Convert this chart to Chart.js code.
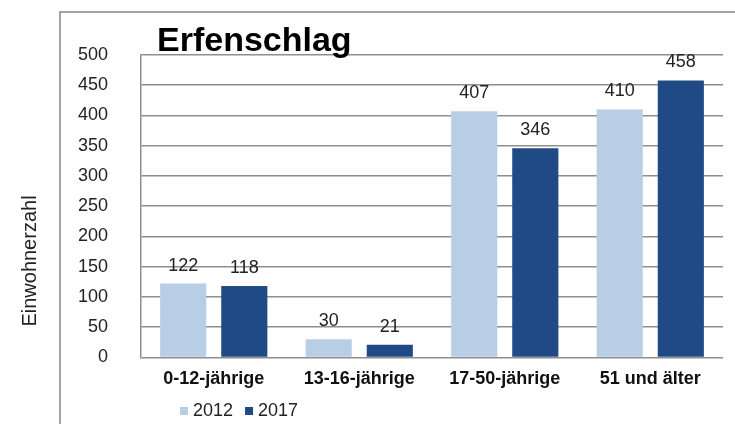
<!DOCTYPE html>
<html>
<head>
<meta charset="utf-8">
<script src="https://cdn.jsdelivr.net/npm/chart.js@4"></script>
<style>
  html, body { margin: 0; padding: 0; background: #fff; }
  #wrap { position: relative; width: 735px; height: 424px; overflow: hidden; }
  #frame { position: absolute; left: 59px; top: 11px; right: -5px; bottom: -5px;
           border-top: 2px solid #a3a3a3; border-left: 2px solid #a3a3a3; }
  #chart { position: absolute; left: 0; top: 0; }
</style>
</head>
<body>
<div id="wrap">
  <div id="frame"></div>
  <canvas id="chart" width="735" height="424"></canvas>
</div>
<script>
const categories = ["0-12-jährige", "13-16-jährige", "17-50-jährige", "51 und älter"];
const years = ["2012", "2017"];
const values2012 = [122, 30, 407, 410];
const values2017 = [118, 21, 346, 458];
const yTicks = { min: 0, max: 500, step: 50 };

const chartTitle = "Erfenschlag";
const yTitle = "Einwohnerzahl";
const colors = ["#b8cee6", "#1f4a85"];
const FONT = "'Liberation Sans', Arial, sans-serif";

// value labels above each bar
const barLabels = {
  id: "barLabels",
  afterDatasetsDraw(chart) {
    const ctx = chart.ctx;
    ctx.save();
    ctx.font = "18px " + FONT;
    ctx.fillStyle = "#222";
    ctx.textAlign = "center";
    ctx.textBaseline = "middle";
    chart.data.datasets.forEach((ds, i) => {
      chart.getDatasetMeta(i).data.forEach((bar, j) => {
        ctx.fillText(ds.data[j], bar.x, bar.y - 18);
      });
    });
    ctx.restore();
  }
};

// title, rotated axis title and the small legend under the axis
const extras = {
  id: "extras",
  afterDraw(chart) {
    const ctx = chart.ctx;
    const area = chart.chartArea;
    ctx.save();
    ctx.fillStyle = "#000";
    ctx.font = "bold 34px " + FONT;
    ctx.textAlign = "left";
    ctx.textBaseline = "alphabetic";
    ctx.fillText(chartTitle, area.left + 16, 51);

    ctx.font = "20px " + FONT;
    ctx.fillStyle = "#222";
    ctx.textAlign = "center";
    ctx.textBaseline = "middle";
    ctx.translate(30, 261);
    ctx.rotate(-Math.PI / 2);
    ctx.fillText(yTitle, 0, 0);
    ctx.restore();

    ctx.save();
    ctx.font = "18px " + FONT;
    ctx.textBaseline = "middle";
    let x = area.left + 39;
    chart.data.datasets.forEach((ds) => {
      ctx.fillStyle = ds.backgroundColor;
      ctx.fillRect(x, 407, 8, 8);
      ctx.fillStyle = "#222";
      ctx.fillText(ds.label, x + 13, 411);
      x += 13 + ctx.measureText(ds.label).width + 12;
    });
    ctx.restore();
  }
};

new Chart(document.getElementById("chart"), {
  type: "bar",
  data: {
    labels: categories,
    datasets: [
      { label: years[0], data: values2012, backgroundColor: colors[0] },
      { label: years[1], data: values2017, backgroundColor: colors[1] }
    ]
  },
  options: {
    responsive: false,
    animation: false,
    devicePixelRatio: 1,
    categoryPercentage: 0.84,
    barPercentage: 0.755,
    layout: { padding: { top: 55, right: 12, bottom: 23, left: 10 } },
    plugins: {
      legend: { display: false },
      title: { display: false },
      tooltip: { enabled: false }
    },
    scales: {
      x: {
        grid: { display: false, drawTicks: false },
        border: { display: false },
        ticks: { padding: 11, color: "#111", font: { family: FONT, size: 18, weight: "bold" } }
      },
      y: {
        min: yTicks.min,
        max: yTicks.max,
        afterFit: (s) => { s.width = 131; },
        grid: { color: "#8e8e8e", lineWidth: 1.5, drawTicks: false },
        border: { display: true, color: "#8e8e8e", width: 1.5 },
        ticks: { stepSize: yTicks.step, padding: 33, color: "#222", font: { family: FONT, size: 18 } }
      }
    }
  },
  plugins: [barLabels, extras]
});
</script>
</body>
</html>
